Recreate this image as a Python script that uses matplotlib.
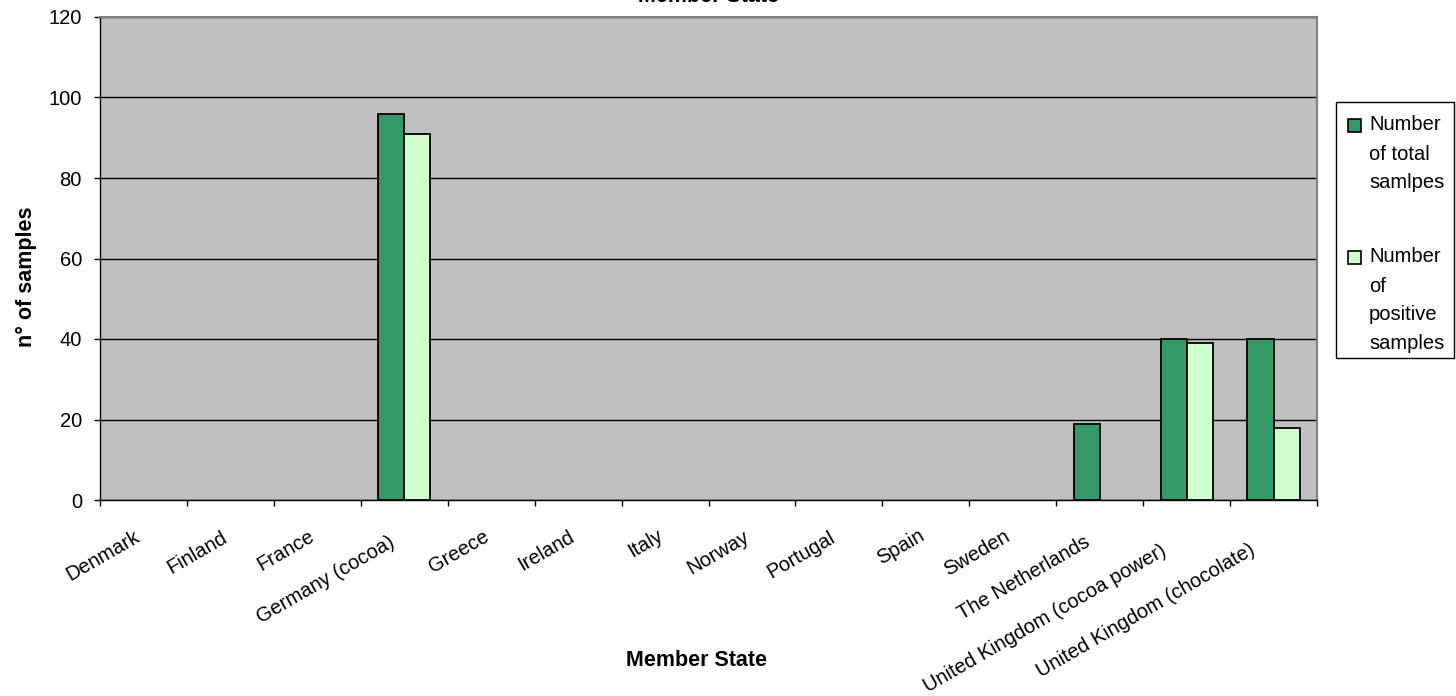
import matplotlib
matplotlib.use("Agg")
import matplotlib.pyplot as plt
import matplotlib.transforms as mtransforms
from matplotlib.patches import Rectangle
import numpy as np

categories = ["Denmark", "Finland", "France", "Germany (cocoa)", "Greece", "Ireland",
              "Italy", "Norway", "Portugal", "Spain", "Sweden", "The Netherlands",
              "United Kingdom (cocoa power)", "United Kingdom (chocolate)"]
total_samples = [0, 0, 0, 96, 0, 0, 0, 0, 0, 0, 0, 19, 40, 40]
positive_samples = [0, 0, 0, 91, 0, 0, 0, 0, 0, 0, 0, 0, 39, 18]
series_labels = ["Number\nof total\nsamlpes", "Number\nof\npositive\nsamples"]
series_colors = ["#339966", "#CCFFCC"]
y_ticks = [0, 20, 40, 60, 80, 100, 120]

plt.rcParams['font.family'] = ['Liberation Sans', 'DejaVu Sans']
plt.rcParams['font.size'] = 14.5

W, H = 1456, 696
fig = plt.figure(figsize=(W / 100, H / 100), dpi=100)
ax = fig.add_axes([100 / W, 1 - 500 / H, (1317 - 100) / W, (500 - 17) / H])
ax.set_facecolor("#C0C0C0")

n = len(categories)
centers = np.arange(n) + 0.5
bw = 0.30
for k, vals in enumerate([total_samples, positive_samples]):
    v = np.array(vals, dtype=float)
    v[v == 0] = np.nan  # zero values draw no bar (as in the original)
    ax.bar(centers + (k - 0.5) * bw, v, bw, color=series_colors[k], edgecolor="black",
           linewidth=1.3, zorder=3)

ax.set_xlim(0, n)
ax.set_ylim(0, 120)
ax.set_yticks(y_ticks)
ax.yaxis.grid(True, color="black", linewidth=1)
ax.set_axisbelow(True)

ax.set_xticks(np.arange(n + 1))
ax.set_xticklabels([])
ax.set_xticks(centers, minor=True)
ax.set_xticklabels(categories, minor=True, rotation=30, ha="right", va="top",
                   rotation_mode="anchor")
ax.tick_params(axis="x", which="minor", length=0, pad=0)
ax.tick_params(axis="x", which="major", length=4, width=1, direction="out")
ax.tick_params(axis="y", length=4, width=1, direction="out", pad=9)
for lbl in ax.get_xticklabels(minor=True):
    nc = len(lbl.get_text())
    dx = -4 - 0.8 * nc
    dy = 23 + 0.65 * nc
    off = mtransforms.ScaledTranslation(dx / 100, -dy / 100, fig.dpi_scale_trans)
    lbl.set_transform(lbl.get_transform() + off)

for s in ["left", "bottom"]:
    ax.spines[s].set_color("black")
    ax.spines[s].set_linewidth(1)
for s in ["top", "right"]:
    ax.spines[s].set_color("#808080")
    ax.spines[s].set_linewidth(1.5)

fig.text(26 / W, 1 - 277 / H, "n° of samples", fontweight="bold", fontsize=15.5,
         rotation=90, ha="center", va="center")
fig.text(697 / W, 1 - 660 / H, "Member State", fontweight="bold", fontsize=15.5,
         ha="center", va="center")
fig.text(708 / W, 1 + 4 / H, "Member State", fontweight="bold", fontsize=15.5,
         ha="center", va="center")

# legend drawn in figure pixels
def fx(px):
    return px / W

def fy(py):
    return 1 - py / H

fig.patches.append(Rectangle((fx(1336), fy(358)), fx(1454) - fx(1336), fy(102) - fy(358),
                             transform=fig.transFigure, facecolor="white",
                             edgecolor="black", linewidth=1))
line_h = 29
first_lines = [125, 257]
for k, lab in enumerate(series_labels):
    y0 = first_lines[k]
    fig.patches.append(Rectangle((fx(1348), fy(y0 + 6.5)), fx(1361) - fx(1348), 13 / H,
                                 transform=fig.transFigure, facecolor=series_colors[k],
                                 edgecolor="black", linewidth=1.2))
    for j, line in enumerate(lab.split("\n")):
        fig.text(fx(1369), fy(y0 + j * line_h), line, ha="left", va="center")

fig.savefig("out.png", dpi=100)
